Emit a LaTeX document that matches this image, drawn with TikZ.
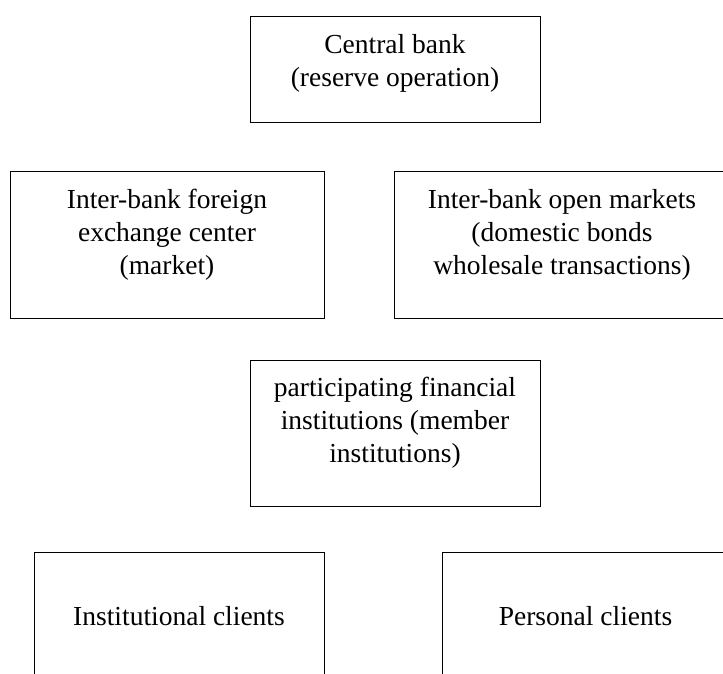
\documentclass[tikz,border=0pt]{standalone}
\usepackage{fontspec}
\setmainfont{Liberation Serif}
\tikzset{
		% one style for every box of the market chart
		market box/.style={rectangle,draw,line width=1pt,align=center,inner sep=0pt,
			font=\fontsize{27.5}{33}\selectfont,text depth=26pt},
		wide box/.style={market box,minimum width=314pt,minimum height=147pt},
		client box/.style={market box,minimum height=144pt,text depth=17pt}
	}
\begin{document}
\begin{tikzpicture}[x=1pt,y=-1pt]
		\useasboundingbox (0,0) rectangle (723,673);
		\clip (0,0) rectangle (723,673);
		\node [market box,minimum width=290pt,minimum height=106pt,text depth=17pt] (central) at (395,69)
			{Central bank\\(reserve operation)};
		\node [wide box] (forex) at (167,244.5)
			{Inter-bank foreign\\exchange center\\(market)};
		\node [wide box,minimum width=336pt] (openmkt) at (562,244.5)
			{Inter-bank open markets\\(domestic bonds\\wholesale transactions)};
		\node [market box,minimum width=290pt,minimum height=146pt] (member) at (395,433)
			{participating financial\\institutions (member\\institutions)};
		\node [client box,minimum width=290pt] (inst) at (179,624) {Institutional clients};
		\node [client box,minimum width=287pt] (personal) at (585.5,624) {Personal clients};
	\end{tikzpicture}
\end{document}
